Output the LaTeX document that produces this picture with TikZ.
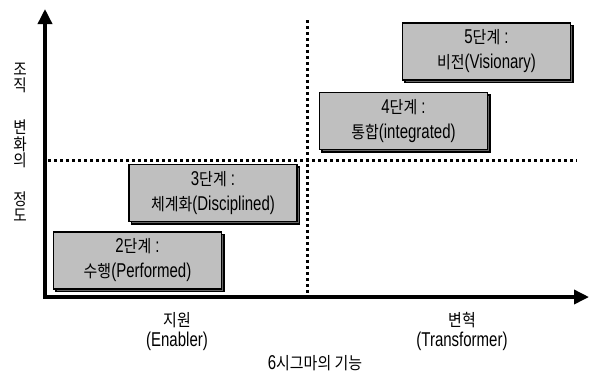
\documentclass[tikz,border=0pt]{standalone}
\usepackage{fontspec}
\setmainfont{Liberation Sans}[FakeStretch=0.75]
\newfontfamily\kr{Noto Sans CJK KR}[Scale=0.85, FakeStretch=0.88]
\usetikzlibrary{arrows.meta,shadows}

\begin{document}
\begin{tikzpicture}[x=1pt, y=-1pt,
    stage/.style={draw, line width=1.2pt, fill=black!25, minimum width=168pt, minimum height=57pt,
      align=center, inner sep=2pt, font=\fontsize{20}{25}\selectfont,
      execute at begin node={\rule{0pt}{29pt}},
      copy shadow={fill=black!60, shadow xshift=2.5pt, shadow yshift=-2.5pt}},
    axis/.style={line width=3.5pt, line join=miter, {Triangle[length=15pt,width=14pt]}-{Triangle[length=15pt,width=14pt]}},
    grid/.style={line width=3pt, dash pattern=on 3pt off 3pt},
    lbl/.style={align=center, font=\fontsize{20}{20}\selectfont},
    ylbl/.style={font=\kr\fontsize{19.5}{19.5}\selectfont, inner sep=0pt, text height=12pt, text depth=1pt},
  ]
  \useasboundingbox (0,0) rectangle (593,376);

  % axes
  \coordinate (ytop) at (45,9);
  \coordinate (origin) at (45,297);
  \coordinate (xend) at (589,297);
  \draw[axis] (ytop) -- (origin) -- (xend);

  % quadrant lines
  \coordinate (vtop) at (307,20);
  \coordinate (vbot) at (307,295);
  \coordinate (hleft) at (48,160);
  \coordinate (hright) at (577,160);
  \draw[grid] (vtop) -- (vbot);
  \draw[grid] (hleft) -- (hright);

  % stages
  \node[stage] (stage2) at (137.5,260.5) {2{\kr 단계} :\\{\kr 수행}(Performed)};
  \node[stage] (stage3) at (213,193) {3{\kr 단계} :\\{\kr 체계화}(Disciplined)};
  \node[stage] (stage4) at (403.5,121) {4{\kr 단계} :\\{\kr 통합}(integrated)};
  \node[stage] (stage5) at (486.5,51.5) {5{\kr 단계} :\\{\kr 비전}(Visionary)};

  % axis labels
  \foreach \ch/\y in {조/70,직/86,변/128,화/145,의/161,정/200,도/216}
    \node[ylbl] (ych\y) at (20,\y) {\ch};
  \node[lbl] (enabler) at (177,332) {{\kr 지원}\\(Enabler)};
  \node[lbl] (transformer) at (462,331) {{\kr 변혁}\\(Transformer)};
  \node[lbl] (xtitle) at (315,363) {6{\kr 시그마의 기능}};
\end{tikzpicture}
\end{document}
